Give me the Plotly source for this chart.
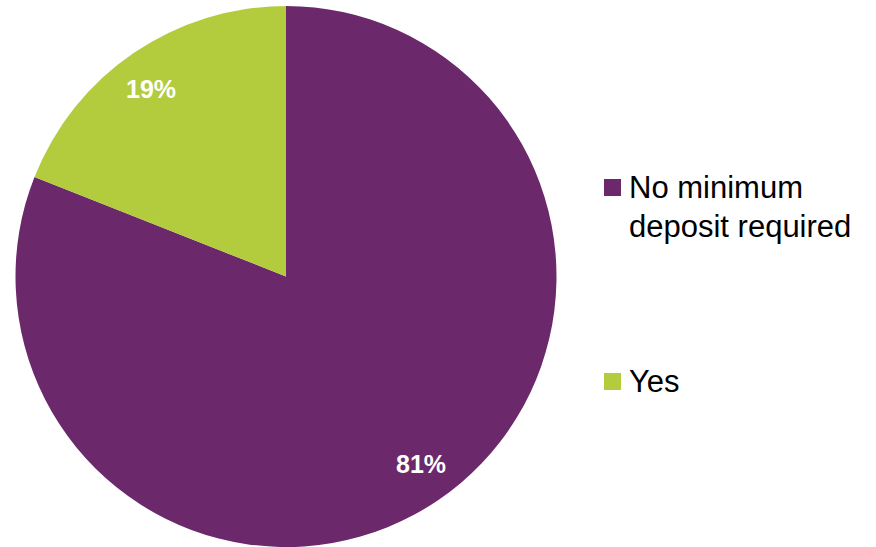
import math
import plotly.graph_objects as go

# Share of accounts by minimum-deposit requirement
labels = ["No minimum deposit required", "Yes"]
legend_lines = [["No minimum", "deposit required"], ["Yes"]]
values = [81, 19]
colors = ["#6B296B", "#B3CC3D"]

W, H = 876, 547
cx, cy, r = 286, 276.5, 270.5  # pie centre / radius in pixels
FONT = "Liberation Sans"

fig = go.Figure(
    go.Pie(
        labels=labels,
        values=values,
        marker=dict(colors=colors, line=dict(width=0)),
        sort=False,
        direction="clockwise",
        rotation=0,
        textinfo="none",
        hoverinfo="label+percent",
        showlegend=False,
        domain=dict(x=[(cx - r) / W, (cx + r) / W], y=[1 - (cy + r) / H, 1 - (cy - r) / H]),
    )
)

annotations = []
shapes = []

# Percentage labels placed along each slice's mid-angle
total = sum(values)
cum = 0
for v in values:
    mid = (cum + v / 2) / total * 2 * math.pi - math.radians(1.5)  # clockwise from 12 o'clock
    cum += v
    px = cx + 0.855 * r * math.sin(mid)
    py = cy - 0.855 * r * math.cos(mid)
    annotations.append(
        dict(
            x=px / W, y=1 - py / H, xref="paper", yref="paper",
            text=f"<b>{round(v / total * 100)}%</b>", showarrow=False,
            font=dict(family=FONT, size=25, color="white"),
            xanchor="center", yanchor="middle",
        )
    )

# Legend: square swatch + label lines
legend_y = [187.5, 381.5]
line_h = 39
for lines, col, ly in zip(legend_lines, colors, legend_y):
    shapes.append(
        dict(
            type="rect", xref="paper", yref="paper",
            x0=604 / W, x1=621 / W, y0=1 - (ly + 8.5) / H, y1=1 - (ly - 8.5) / H,
            fillcolor=col, line=dict(width=0),
        )
    )
    for i, t in enumerate(lines):
        annotations.append(
            dict(
                x=627 / W, y=1 - (ly + i * line_h) / H, xref="paper", yref="paper",
                text=t, showarrow=False,
                font=dict(family=FONT, size=31, color="black"),
                xanchor="left", yanchor="middle",
            )
        )

fig.update_layout(
    width=W, height=H,
    margin=dict(l=0, r=0, t=0, b=0),
    paper_bgcolor="white",
    plot_bgcolor="white",
    annotations=annotations,
    shapes=shapes,
)

fig.write_html("out.html")
